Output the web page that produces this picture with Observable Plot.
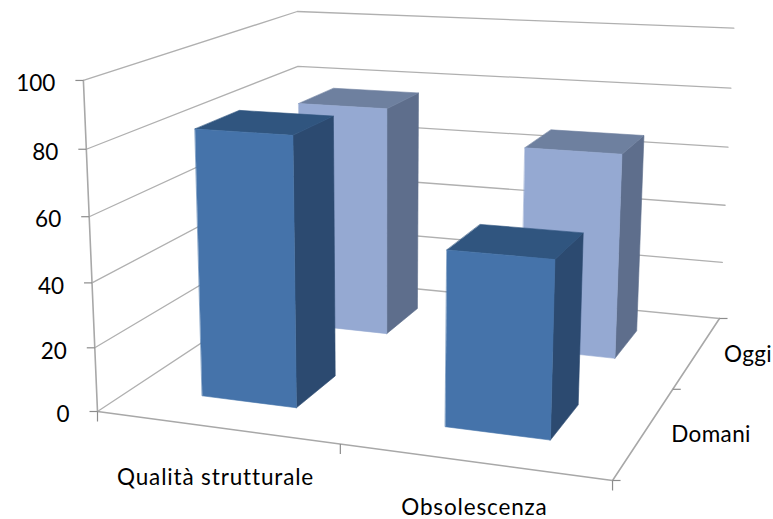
<!DOCTYPE html>
<html>
<head>
<meta charset="utf-8">
<script src="https://cdn.jsdelivr.net/npm/d3@7"></script>
<script src="https://cdn.jsdelivr.net/npm/@observablehq/plot@0.6"></script>
<style>
html,body{margin:0;padding:0;background:#fff}
svg{display:block}
.spaced-wide text{letter-spacing:.85px}
.spaced-narrow text{letter-spacing:.4px}
</style>
</head>
<body>
<div id="chart"></div>
<script>
const categories = ["Qualità strutturale", "Obsolescenza"];
const series = ["Domani", "Oggi"];
const domani = [83, 53];
const oggi = [77, 67];
const valueTicks = [0, 20, 40, 60, 80, 100];

const palette = {
  Domani: {front: "#4573aa", top: "#30557f", side: "#2c4a70"},
  Oggi: {front: "#95a9d2", top: "#6e809f", side: "#5e6e8c"}
};
const fontFamily = "Lato, sans-serif";
const fontSize = 22.5;

// perspective camera: (u across, v into the page, w up) in unit-cube terms
const camera = [
  [449, 280, -18, 97],
  [17.2, -62.9, -334.8, 411],
  [-0.1079, 0.2567, -0.047, 1]
];
function project(u, v, value) {
  const w = value / 100;
  const p = camera.map(r => r[0] * u + r[1] * v + r[2] * w + r[3]);
  return {x: p[0] / p[2], y: p[1] / p[2]};
}
const path = (...pts) => pts.map(p => project(...p));

const barStart = (i, n) => (i + 0.3) / n;
const barEnd = (i, n) => (i + 0.7) / n;

const frame = {x: "x", y: "y"};
const marks = [];
const gridStroke = {stroke: "#b0b0b0", strokeWidth: 1.3};

// walls
for (const t of valueTicks) {
  marks.push(Plot.line(path([0, 0, t], [0, 1, t], [1, 1, t]), {...frame, ...gridStroke}));
}
// floor and axis lines
marks.push(Plot.line(path([0, 0, 100], [0, 0, 0], [1, 0, 0], [1, 1, 0]), {...frame, stroke: "#a8a8a8", strokeWidth: 1.6}));

// ticks
const tickStroke = {stroke: "#8c8c8c", strokeWidth: 1.2};
const valueTickData = valueTicks.map(t => ({t, ...project(0, 0, t)}));
marks.push(Plot.link(valueTickData, {x1: d => d.x - 8, x2: "x", y1: "y", y2: "y", ...tickStroke}));
const catTickData = d3.range(categories.length + 1).map(i => project(i / categories.length, 0, 0));
marks.push(Plot.link(catTickData, {x1: "x", x2: "x", y1: "y", y2: d => d.y + 10, ...tickStroke}));
const serTickData = d3.range(series.length + 1).map(i => project(1, i / series.length, 0));
marks.push(Plot.link(serTickData, {x1: "x", x2: d => d.x + 8, y1: "y", y2: "y", ...tickStroke}));

// bars, back series first
function bar(ci, si, value, colors) {
  const n = categories.length, m = series.length;
  const u0 = barStart(ci, n), u1 = barEnd(ci, n);
  const v0 = barStart(si, m), v1 = barEnd(si, m);
  const faces = [
    [colors.side, [[u1, v0, 0], [u1, v1, 0], [u1, v1, value], [u1, v0, value]]],
    [colors.top, [[u0, v0, value], [u1, v0, value], [u1, v1, value], [u0, v1, value]]],
    [colors.front, [[u0, v0, 0], [u1, v0, 0], [u1, v0, value], [u0, v0, value]]]
  ];
  for (const [color, pts] of faces) {
    marks.push(Plot.line(path(...pts), {...frame, curve: "linear-closed", fill: color, stroke: color, strokeWidth: 0.6}));
  }
}
oggi.forEach((v, i) => bar(i, 1, v, palette.Oggi));
domani.forEach((v, i) => bar(i, 0, v, palette.Domani));

// labels
const textStyle = {fontFamily, fontSize, fill: "#000"};
marks.push(Plot.text(valueTickData, {x: d => d.x - 28, y: d => d.y + 3.5, text: d => String(d.t), textAnchor: "end", ...textStyle}));
const catLabelDx = [0, 2];
const catLabelDy = [50, 46];
marks.push(Plot.text(categories.map((c, i) => ({c, i, ...project((i + 0.5) / categories.length, 0, 0)})), {
  x: d => d.x + catLabelDx[d.i], y: d => d.y + catLabelDy[d.i], text: "c", textAnchor: "middle", className: "spaced-wide", ...textStyle
}));
marks.push(Plot.text(series.map((s, i) => ({s, ...project(1, (i + 0.5) / series.length, 0)})), {
  x: d => d.x + 26.5, y: d => d.y + 3, text: "s", textAnchor: "start", className: "spaced-narrow", ...textStyle
}));

const chart = Plot.plot({
  width: 773, height: 519,
  marginTop: 0, marginRight: 0, marginBottom: 0, marginLeft: 0,
  x: {domain: [0, 773], range: [0, 773], axis: null},
  y: {domain: [0, 519], range: [0, 519], axis: null},
  style: {background: "#fff"},
  marks
});
document.getElementById("chart").append(chart);
</script>
</body>
</html>
